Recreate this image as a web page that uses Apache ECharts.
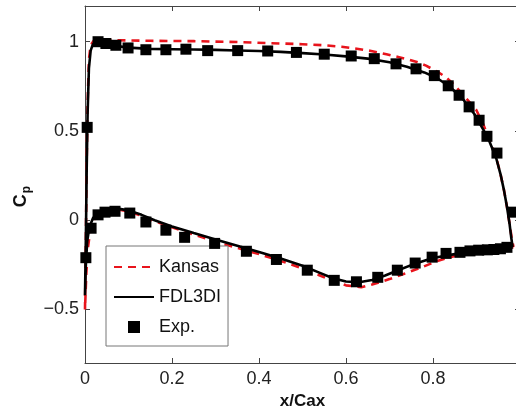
<!DOCTYPE html>
<html>
<head>
<meta charset="utf-8">
<script src="https://cdn.jsdelivr.net/npm/echarts@6/dist/echarts.min.js"></script>
<style>html,body{margin:0;padding:0;background:#fff;}#c{width:516px;height:406px;}</style>
</head>
<body>
<div id="c"></div>
<script>
// ---- data: [x/Cax, Cp] ----
const kansasLower = [[0,-0.5],[0.003,-0.3],[0.007,-0.15],[0.012,-0.06],[0.02,0.0],[0.03,0.035],[0.05,0.055],[0.075,0.06],[0.1,0.05],[0.13,0.025],[0.16,-0.005],[0.2,-0.04],[0.25,-0.08],[0.3,-0.12],[0.35,-0.155],[0.4,-0.19],[0.45,-0.228],[0.5,-0.27],[0.54,-0.31],[0.57,-0.34],[0.6,-0.365],[0.635,-0.376],[0.66,-0.36],[0.7,-0.33],[0.734,-0.3],[0.775,-0.263],[0.81,-0.228],[0.85,-0.2],[0.9,-0.18],[0.95,-0.168],[0.985,-0.15]];
const kansasUpper = [[0,-0.5],[0.002,-0.1],[0.004,0.35],[0.006,0.65],[0.009,0.9],[0.013,0.98],[0.02,1.005],[0.04,1.01],[0.08,1.008],[0.15,1.005],[0.25,1.003],[0.35,0.998],[0.45,0.99],[0.5,0.986],[0.55,0.98],[0.59,0.972],[0.62,0.962],[0.658,0.948],[0.693,0.93],[0.722,0.913],[0.761,0.888],[0.784,0.866],[0.814,0.826],[0.83,0.8],[0.85,0.755],[0.87,0.7],[0.899,0.62],[0.915,0.54],[0.93,0.45],[0.945,0.355],[0.955,0.26],[0.963,0.17],[0.97,0.075],[0.976,-0.02],[0.981,-0.1],[0.985,-0.15]];
const fdlLower = [[0,-0.42],[0.002,-0.25],[0.005,-0.12],[0.01,-0.04],[0.018,0.01],[0.03,0.045],[0.05,0.06],[0.075,0.065],[0.1,0.055],[0.13,0.03],[0.16,0.0],[0.2,-0.035],[0.25,-0.072],[0.3,-0.108],[0.35,-0.143],[0.4,-0.178],[0.45,-0.215],[0.5,-0.255],[0.54,-0.295],[0.57,-0.325],[0.6,-0.343],[0.63,-0.348],[0.66,-0.335],[0.69,-0.31],[0.72,-0.28],[0.76,-0.242],[0.8,-0.212],[0.85,-0.19],[0.9,-0.175],[0.95,-0.165],[0.975,-0.16],[0.983,-0.15]];
const fdlUpper = [[0,-0.42],[0.002,-0.1],[0.004,0.3],[0.006,0.6],[0.009,0.85],[0.013,0.95],[0.018,0.985],[0.025,0.995],[0.04,0.99],[0.06,0.98],[0.1,0.967],[0.15,0.96],[0.2,0.958],[0.25,0.956],[0.3,0.954],[0.35,0.951],[0.4,0.948],[0.45,0.943],[0.5,0.936],[0.55,0.928],[0.6,0.918],[0.65,0.905],[0.7,0.885],[0.74,0.86],[0.78,0.828],[0.81,0.795],[0.84,0.745],[0.87,0.675],[0.895,0.595],[0.915,0.51],[0.93,0.44],[0.945,0.35],[0.955,0.26],[0.963,0.17],[0.97,0.075],[0.976,-0.02],[0.98,-0.1],[0.983,-0.15]];
const expUpper = [[0.005,0.52],[0.03,1.0],[0.048,0.99],[0.071,0.98],[0.099,0.965],[0.14,0.955],[0.186,0.955],[0.232,0.958],[0.282,0.95],[0.351,0.95],[0.42,0.948],[0.486,0.94],[0.55,0.93],[0.612,0.92],[0.665,0.905],[0.715,0.876],[0.761,0.848],[0.803,0.81],[0.835,0.753],[0.86,0.7],[0.883,0.635],[0.906,0.56],[0.924,0.47],[0.947,0.376],[0.984,0.045]];
const expLower = [[0.002,-0.21],[0.014,-0.045],[0.03,0.03],[0.046,0.045],[0.069,0.05],[0.103,0.04],[0.14,-0.01],[0.186,-0.056],[0.229,-0.096],[0.298,-0.13],[0.371,-0.174],[0.44,-0.22],[0.511,-0.28],[0.573,-0.337],[0.624,-0.345],[0.673,-0.32],[0.718,-0.28],[0.759,-0.24],[0.798,-0.207],[0.83,-0.186],[0.862,-0.18],[0.885,-0.172],[0.905,-0.168],[0.925,-0.166],[0.94,-0.164],[0.955,-0.16],[0.97,-0.152]];
const xTicks = [0, 0.2, 0.4, 0.6, 0.8];
const yTicks = [-0.5, 0, 0.5, 1];
const seriesNames = ['Kansas', 'FDL3DI', 'Exp.'];

const loop = (lower, upper) => lower.slice().reverse().concat(upper.slice(1));
const fmt = v => (v < 0 ? '\u2212' : '') + String(Math.abs(Math.round(v * 10) / 10));
const FONT = 'Liberation Sans, Arial, Helvetica, sans-serif';
const axisCol = '#444';
const hiddenSymbol = {color: 'rgba(0,0,0,0)', borderWidth: 0, opacity: 0};
const squareIcon = 'path://M0,0L0.01,0M14,0.5h12v12h-12zM39.99,13L40,13';

const chart = echarts.init(document.getElementById('c'), null, {renderer: 'canvas'});
const axisLineStyle = {show: true, onZero: false, lineStyle: {color: axisCol, width: 1}};
chart.setOption({
  animation: false,
  backgroundColor: '#fff',
  grid: {left: 85, top: 6, right: -4, bottom: 43, containLabel: false, outerBoundsMode: 'none'},
  xAxis: [{
    type: 'value', min: 0, max: 1, position: 'bottom',
    axisLine: axisLineStyle,
    axisTick: {show: true, inside: true, length: 5, customValues: xTicks.slice(1), lineStyle: {color: axisCol}},
    axisLabel: {customValues: xTicks, formatter: fmt, fontSize: 18, color: '#222', fontFamily: FONT, margin: 7},
    splitLine: {show: false},
    name: 'x/Cax', nameLocation: 'middle', nameGap: 27,
    nameTextStyle: {fontSize: 17, fontWeight: 'bold', color: '#111', fontFamily: FONT}
  }, {
    type: 'value', min: 0, max: 1, position: 'top',
    axisLine: axisLineStyle,
    axisTick: {show: true, inside: true, length: 5, customValues: xTicks.slice(1), lineStyle: {color: axisCol}},
    axisLabel: {show: false}, splitLine: {show: false}
  }],
  yAxis: [{
    type: 'value', min: -0.8, max: 1.2, position: 'left',
    axisLine: axisLineStyle,
    axisTick: {show: true, inside: true, length: 5, customValues: yTicks, lineStyle: {color: axisCol}},
    axisLabel: {customValues: yTicks, formatter: fmt, fontSize: 18, color: '#222', fontFamily: FONT, margin: 6},
    splitLine: {show: false},
    name: '{c|C}{p|p}', nameLocation: 'middle', nameGap: 47, nameRotate: 90,
    nameTextStyle: {fontFamily: FONT, color: '#111', padding: [0, 24, 0, 0], rich: {
      c: {fontSize: 18, fontWeight: 'bold', fontFamily: FONT, color: '#111'},
      p: {fontSize: 12, fontWeight: 'bold', fontFamily: FONT, color: '#111', padding: [12, 0, 0, 1]}
    }}
  }, {
    type: 'value', min: -0.8, max: 1.2, position: 'right',
    axisLine: axisLineStyle,
    axisTick: {show: true, inside: true, length: 5, customValues: yTicks, lineStyle: {color: axisCol}},
    axisLabel: {show: false}, splitLine: {show: false}
  }],
  legend: {
    left: 106, top: 246, orient: 'vertical',
    itemWidth: 40, itemHeight: 13, itemGap: 12,
    padding: [12, 7, 10, 7],
    borderColor: '#777', borderWidth: 1, backgroundColor: '#fff',
    textStyle: {fontSize: 18, color: '#111', fontFamily: FONT},
    data: [
      {name: seriesNames[0], itemStyle: hiddenSymbol},
      {name: seriesNames[1], itemStyle: hiddenSymbol},
      {name: seriesNames[2], icon: squareIcon, itemStyle: {color: '#000', opacity: 1}}
    ],
    selectedMode: false
  },
  series: [{
    name: seriesNames[0], type: 'line', data: loop(kansasLower, kansasUpper),
    symbol: 'none', smooth: false,
    lineStyle: {color: '#e8141c', width: 2.6, type: [8, 6]},
    itemStyle: {color: '#e8141c'}, z: 2
  }, {
    name: seriesNames[1], type: 'line', data: loop(fdlLower, fdlUpper),
    symbol: 'none', smooth: false,
    lineStyle: {color: '#000', width: 2.6},
    itemStyle: {color: '#000'}, z: 3
  }, {
    name: seriesNames[2], type: 'scatter', data: expUpper.concat(expLower),
    symbol: 'rect', symbolSize: 11,
    itemStyle: {color: '#000', opacity: 1}, z: 4
  }]
});
</script>
</body>
</html>
